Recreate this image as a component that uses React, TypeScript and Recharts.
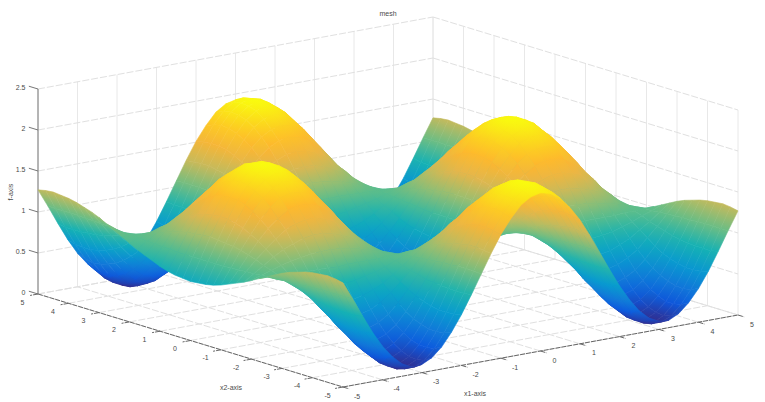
import React from "react";
import { ScatterChart, Scatter, XAxis, YAxis } from "recharts";

const title = "mesh";
const x1Label = "x1-axis";
const x2Label = "x2-axis";
const zLabel = "f-axis";

const x1Ticks = [-5, -4, -3, -2, -1, 0, 1, 2, 3, 4, 5];
const x2Ticks = [-5, -4, -3, -2, -1, 0, 1, 2, 3, 4, 5];
const zTicks = [0, 0.5, 1, 1.5, 2, 2.5];

// the surface is mirror-symmetric in both x1 and x2: positions for one quadrant
const gridPositions = [0, 0.25, 0.5, 0.75, 1, 1.25, 1.5, 1.75, 2, 2.25, 2.5, 2.75, 3, 3.25, 3.5, 3.75, 4, 4.25, 4.5, 4.75, 5];

// surface height per |x2| row, per |x1| column (both from gridPositions)
const quadrantHeights = [
  [0.0, 0.03, 0.12, 0.27, 0.46, 0.69, 0.93, 1.18, 1.42, 1.63, 1.8, 1.93, 1.99, 2.0, 1.94, 1.83, 1.66, 1.45, 1.22, 0.97, 0.72],
  [0.02, 0.05, 0.14, 0.28, 0.47, 0.69, 0.93, 1.18, 1.41, 1.62, 1.79, 1.91, 1.98, 1.98, 1.93, 1.81, 1.65, 1.44, 1.21, 0.97, 0.73],
  [0.06, 0.09, 0.18, 0.31, 0.49, 0.71, 0.93, 1.17, 1.39, 1.59, 1.75, 1.87, 1.93, 1.94, 1.88, 1.77, 1.62, 1.42, 1.2, 0.97, 0.74],
  [0.14, 0.16, 0.24, 0.37, 0.53, 0.73, 0.94, 1.15, 1.36, 1.54, 1.69, 1.8, 1.86, 1.86, 1.81, 1.71, 1.57, 1.39, 1.19, 0.97, 0.76],
  [0.24, 0.26, 0.33, 0.44, 0.59, 0.76, 0.95, 1.14, 1.32, 1.48, 1.61, 1.7, 1.75, 1.76, 1.72, 1.63, 1.5, 1.34, 1.17, 0.98, 0.79],
  [0.37, 0.39, 0.44, 0.54, 0.66, 0.8, 0.96, 1.11, 1.26, 1.4, 1.51, 1.59, 1.63, 1.63, 1.6, 1.52, 1.42, 1.29, 1.14, 0.98, 0.83],
  [0.51, 0.53, 0.57, 0.64, 0.74, 0.85, 0.97, 1.09, 1.2, 1.31, 1.39, 1.45, 1.49, 1.49, 1.46, 1.41, 1.32, 1.22, 1.11, 0.99, 0.87],
  [0.67, 0.68, 0.71, 0.76, 0.82, 0.9, 0.98, 1.06, 1.14, 1.21, 1.26, 1.31, 1.33, 1.33, 1.31, 1.27, 1.22, 1.15, 1.07, 0.99, 0.91],
  [0.85, 0.85, 0.86, 0.89, 0.92, 0.95, 0.99, 1.03, 1.07, 1.1, 1.13, 1.15, 1.16, 1.16, 1.15, 1.13, 1.11, 1.08, 1.04, 1.0, 0.96],
  [1.02, 1.02, 1.02, 1.02, 1.01, 1.01, 1.0, 1.0, 0.99, 0.99, 0.99, 0.99, 0.98, 0.99, 0.99, 0.99, 0.99, 1.0, 1.0, 1.01, 1.01],
  [1.2, 1.19, 1.17, 1.15, 1.11, 1.06, 1.02, 0.97, 0.92, 0.88, 0.85, 0.82, 0.81, 0.81, 0.82, 0.84, 0.88, 0.92, 0.97, 1.01, 1.06],
  [1.37, 1.36, 1.32, 1.27, 1.2, 1.12, 1.03, 0.94, 0.85, 0.77, 0.71, 0.67, 0.64, 0.64, 0.66, 0.71, 0.77, 0.85, 0.93, 1.02, 1.11],
  [1.53, 1.51, 1.46, 1.39, 1.28, 1.17, 1.04, 0.91, 0.79, 0.68, 0.59, 0.52, 0.49, 0.49, 0.52, 0.58, 0.66, 0.78, 0.9, 1.03, 1.16],
  [1.67, 1.65, 1.59, 1.49, 1.36, 1.21, 1.05, 0.89, 0.73, 0.59, 0.47, 0.39, 0.35, 0.35, 0.39, 0.46, 0.57, 0.71, 0.87, 1.03, 1.2],
  [1.79, 1.76, 1.69, 1.58, 1.43, 1.25, 1.06, 0.86, 0.68, 0.51, 0.37, 0.28, 0.23, 0.23, 0.27, 0.36, 0.49, 0.65, 0.84, 1.04, 1.23],
  [1.89, 1.86, 1.78, 1.65, 1.48, 1.28, 1.07, 0.85, 0.64, 0.45, 0.3, 0.19, 0.13, 0.13, 0.18, 0.28, 0.43, 0.61, 0.82, 1.04, 1.26],
  [1.96, 1.93, 1.84, 1.7, 1.52, 1.3, 1.07, 0.84, 0.61, 0.41, 0.24, 0.13, 0.07, 0.06, 0.12, 0.23, 0.39, 0.58, 0.81, 1.05, 1.28],
  [2.0, 1.96, 1.87, 1.73, 1.54, 1.32, 1.08, 0.83, 0.59, 0.38, 0.21, 0.09, 0.03, 0.02, 0.08, 0.19, 0.36, 0.56, 0.8, 1.05, 1.29],
  [2.0, 1.97, 1.88, 1.74, 1.54, 1.32, 1.08, 0.83, 0.59, 0.38, 0.21, 0.08, 0.02, 0.01, 0.07, 0.19, 0.35, 0.56, 0.8, 1.05, 1.3],
  [1.98, 1.95, 1.86, 1.72, 1.53, 1.31, 1.08, 0.83, 0.6, 0.39, 0.22, 0.1, 0.04, 0.04, 0.09, 0.21, 0.37, 0.57, 0.8, 1.05, 1.29],
  [1.93, 1.9, 1.82, 1.68, 1.51, 1.3, 1.07, 0.84, 0.62, 0.43, 0.27, 0.16, 0.1, 0.09, 0.15, 0.26, 0.41, 0.6, 0.82, 1.05, 1.27],
];

// parula-like colour map
const colorMap = [
  [53, 42, 135], [12, 88, 222], [18, 125, 216], [7, 156, 207], [21, 177, 180],
  [89, 189, 140], [165, 190, 107], [228, 182, 76], [254, 182, 46], [252, 212, 30], [249, 251, 14],
];
const colorMax = 2.0;

const W = 765;
const H = 402;

const axisPositions = [...gridPositions.slice(1).reverse().map((p) => -p), ...gridPositions];
const heightRows = [...quadrantHeights.slice(1).reverse(), ...quadrantHeights].map((row) => [
  ...row.slice(1).reverse(),
  ...row,
]);

// oblique view of the 3-D box onto the drawing plane
function project(x1: number, x2: number, z: number) {
  return {
    u: 343 + (x1 + 5) * 39.5 - (x2 + 5) * 30.5,
    v: 387 - (x1 + 5) * 7.2 - (x2 + 5) * 9.3 - z * 82,
  };
}

function colorAt(z: number) {
  const t = Math.max(0, Math.min(0.99999, z / colorMax)) * (colorMap.length - 1);
  const i = Math.floor(t);
  const f = t - i;
  const a = colorMap[i];
  const b = colorMap[i + 1];
  return `rgb(${Math.round(a[0] + (b[0] - a[0]) * f)},${Math.round(a[1] + (b[1] - a[1]) * f)},${Math.round(a[2] + (b[2] - a[2]) * f)})`;
}

const surfaceNodes = heightRows.flatMap((row, r) =>
  row.map((z, c) => ({ ...project(axisPositions[c], axisPositions[r], z), z })),
);

function Surface(props: any) {
  const pts = props.points as { x: number; y: number }[];
  const n = axisPositions.length;
  const defs: React.ReactNode[] = [];
  const quads: React.ReactNode[] = [];
  for (let r = n - 2; r >= 0; r--) {
    for (let c = n - 2; c >= 0; c--) {
      const id = [r * n + c, r * n + c + 1, (r + 1) * n + c + 1, (r + 1) * n + c];
      const p = id.map((i) => pts[i]);
      const zs = id.map((i) => surfaceNodes[i].z);
      const zMin = Math.min(...zs);
      const zMax = Math.max(...zs);
      const d1x = p[2].x - p[0].x, d1y = p[2].y - p[0].y, dz1 = zs[2] - zs[0];
      const d2x = p[3].x - p[1].x, d2y = p[3].y - p[1].y, dz2 = zs[3] - zs[1];
      const det = d1x * d2y - d1y * d2x;
      let paint = colorAt((zMin + zMax) / 2);
      if (Math.abs(det) > 1 && zMax - zMin > 0.005) {
        const gx = (dz1 * d2y - dz2 * d1y) / det;
        const gy = (d1x * dz2 - d2x * dz1) / det;
        const g2 = gx * gx + gy * gy;
        const cx = (p[0].x + p[1].x + p[2].x + p[3].x) / 4;
        const cy = (p[0].y + p[1].y + p[2].y + p[3].y) / 4;
        const zc = (zs[0] + zs[1] + zs[2] + zs[3]) / 4;
        const gid = `q${r}_${c}`;
        defs.push(
          <linearGradient
            key={gid}
            id={gid}
            gradientUnits="userSpaceOnUse"
            x1={cx + (gx / g2) * (zMin - zc)}
            y1={cy + (gy / g2) * (zMin - zc)}
            x2={cx + (gx / g2) * (zMax - zc)}
            y2={cy + (gy / g2) * (zMax - zc)}
          >
            <stop offset={0} stopColor={colorAt(zMin)} />
            <stop offset={1} stopColor={colorAt(zMax)} />
          </linearGradient>,
        );
        paint = `url(#${gid})`;
      }
      quads.push(
        <polygon
          key={`${r}-${c}`}
          points={p.map((q) => `${q.x},${q.y}`).join(" ")}
          fill={paint}
          stroke={paint}
          strokeWidth={0.6}
          strokeLinejoin="round"
        />,
      );
    }
  }
  return (
    <g>
      <defs>{defs}</defs>
      {quads}
    </g>
  );
}

type Node = { u: number; v: number };
function seg(a: Node, b: Node) {
  return [a, b];
}

const wallGridNodes: Node[] = [
  ...x1Ticks.flatMap((t) => seg(project(t, 5, 0), project(t, 5, 2.5))),
  ...x2Ticks.flatMap((t) => seg(project(5, t, 0), project(5, t, 2.5))),
];
const slantGridNodes: Node[] = [
  ...zTicks.flatMap((t) => seg(project(-5, 5, t), project(5, 5, t))),
  ...zTicks.flatMap((t) => seg(project(5, 5, t), project(5, -5, t))),
  ...x1Ticks.flatMap((t) => seg(project(t, -5, 0), project(t, 5, 0))),
  ...x2Ticks.flatMap((t) => seg(project(-5, t, 0), project(5, t, 0))),
];
const zAxisNodes: Node[] = [
  ...seg(project(-5, 5, 0), project(-5, 5, 2.5)),
  ...zTicks.flatMap((t) => seg(project(-5, 5, t), project(-5, 5.3, t))),
];
const floorAxisNodes: Node[] = [
  ...seg(project(-5, 5, 0), project(-5, -5, 0)),
  ...seg(project(-5, -5, 0), project(5, -5, 0)),
  ...x2Ticks.flatMap((t) => seg(project(-5, t, 0), project(-5.2, t, 0))),
  ...x1Ticks.flatMap((t) => seg(project(t, -5, 0), project(t, -5.2, 0))),
];

const x1TickNodes = x1Ticks.map((t) => ({ ...project(t, -5, 0), label: String(t) }));
const x2TickNodes = x2Ticks.map((t) => ({ ...project(-5, t, 0), label: String(t) }));
const zTickNodes = zTicks.map((t) => ({ ...project(-5, 5, t), label: String(t) }));

const textColor = "#4a4a4a";
const fontFamily = "'Liberation Sans', Arial, sans-serif";

function segments(stroke: string, width: number, dash?: string) {
  return (props: any) => {
    const pts = props.points as { x: number; y: number }[];
    let d = "";
    for (let i = 0; i + 1 < pts.length; i += 2) {
      d += `M${pts[i].x},${pts[i].y}L${pts[i + 1].x},${pts[i + 1].y}`;
    }
    return <path d={d} fill="none" stroke={stroke} strokeWidth={width} strokeDasharray={dash} />;
  };
}

const noMark = () => <g />;

function labelShape(dx: number, dy: number, anchor: string) {
  return (props: any) => (
    <text
      x={props.cx + dx}
      y={props.cy + dy}
      textAnchor={anchor as any}
      dominantBaseline="central"
      fontSize={7}
      fontFamily={fontFamily}
      fill={textColor}
    >
      {props.payload.label}
    </text>
  );
}

const axisTextStyle = { fontSize: 7, fontFamily, fill: textColor };

export default function App() {
  return (
    <div style={{ position: "absolute", left: 0, top: 0, width: W, height: H, background: "#fff" }}>
      <ScatterChart width={W} height={H} margin={{ top: 0, right: 0, bottom: 0, left: 0 }}>
        <XAxis type="number" dataKey="u" domain={[0, W]} hide allowDataOverflow />
        <YAxis type="number" dataKey="v" domain={[0, H]} reversed hide allowDataOverflow />
        <Scatter data={wallGridNodes} isAnimationActive={false} shape={noMark} line={segments("#e8e8e8", 1)} />
        <Scatter data={slantGridNodes} isAnimationActive={false} shape={noMark} line={segments("#e0e0e0", 1, "7 2")} />
        <Scatter data={zAxisNodes} isAnimationActive={false} shape={noMark} line={segments("#777777", 1)} />
        <Scatter data={floorAxisNodes} isAnimationActive={false} shape={noMark} line={segments("#666666", 1, "5 1")} />
        <Scatter data={surfaceNodes} isAnimationActive={false} shape={noMark} line={(p: any) => <Surface {...p} />} />
        <Scatter data={zTickNodes} isAnimationActive={false} shape={labelShape(-12.5, -2, "end")} />
        <Scatter data={x2TickNodes} isAnimationActive={false} shape={labelShape(-15.5, 8, "middle")} />
        <Scatter data={x1TickNodes} isAnimationActive={false} shape={labelShape(14, 9, "middle")} />
        <text x={388} y={13} textAnchor="middle" dominantBaseline="central" {...axisTextStyle}>{title}</text>
        <text x={231} y={387} textAnchor="middle" dominantBaseline="central" {...axisTextStyle}>{x2Label}</text>
        <text x={475} y={393} textAnchor="middle" dominantBaseline="central" {...axisTextStyle}>{x1Label}</text>
        <text
          x={10}
          y={192}
          textAnchor="middle"
          dominantBaseline="central"
          transform="rotate(-90 10 192)"
          {...axisTextStyle}
        >
          {zLabel}
        </text>
      </ScatterChart>
    </div>
  );
}
